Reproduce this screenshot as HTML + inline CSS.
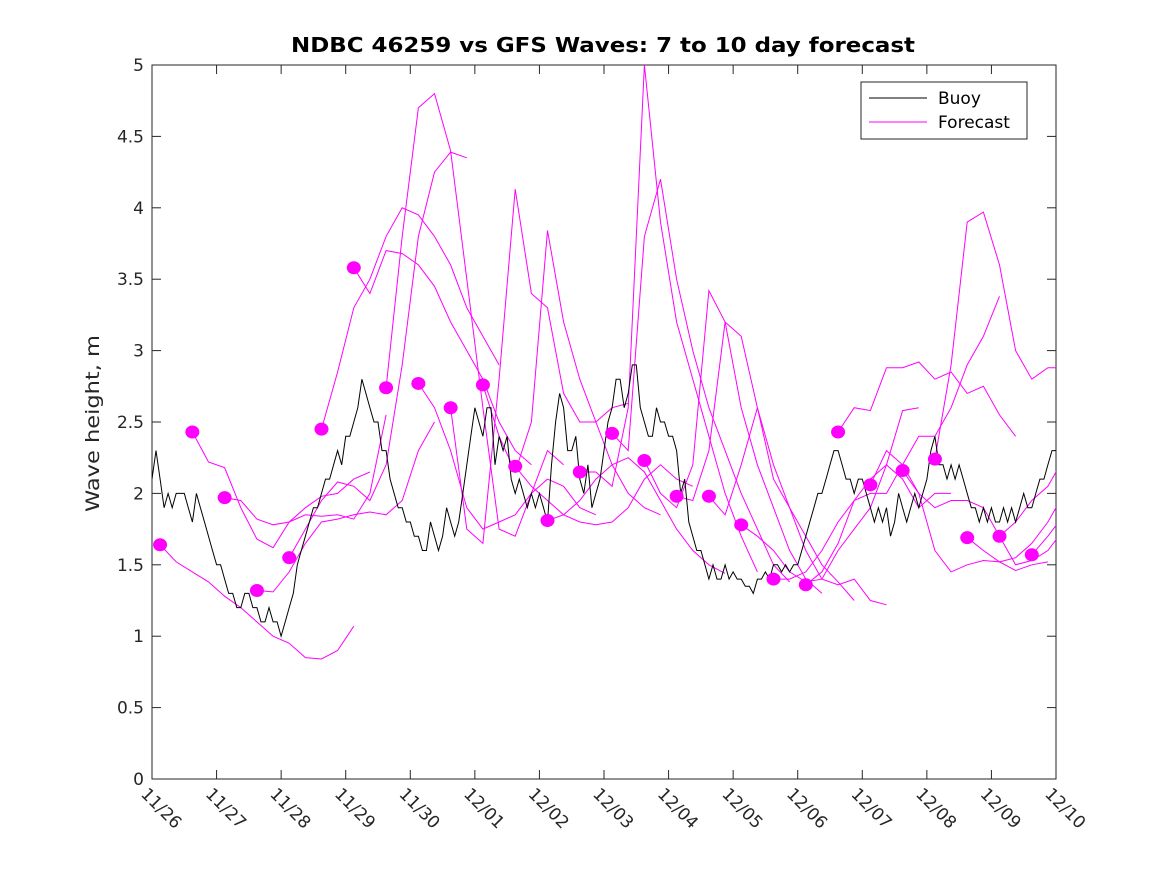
<!DOCTYPE html>
<html><head><meta charset="utf-8"><style>
body{margin:0;background:#fff;}
svg text{font-family:"DejaVu Sans","Liberation Sans",sans-serif;}
</style></head><body>
<svg id="chart" width="1167" height="875" xmlns="http://www.w3.org/2000/svg">
<rect width="1167" height="875" fill="#fff"/>
<defs><clipPath id="clip"><rect x="152" y="65" width="904" height="714"/></clipPath></defs>
<text x="291" y="52" textLength="624" lengthAdjust="spacingAndGlyphs" font-size="20" font-weight="bold" fill="#000">NDBC 46259 vs GFS Waves: 7 to 10 day forecast</text>
<text transform="translate(99,512) rotate(-90)" textLength="177" lengthAdjust="spacingAndGlyphs" font-size="19" fill="#262626">Wave height, m</text>
<g id="axes"></g>
<g id="series" clip-path="url(#clip)"></g>
<g id="legend">
<rect x="861" y="82" width="166" height="57" fill="#fff" stroke="#262626" stroke-width="1"/>
<line x1="869" y1="98" x2="927" y2="98" stroke="#000" stroke-width="1"/>
<text x="938" y="104" font-size="17" fill="#000">Buoy</text>
<line x1="869" y1="122" x2="927" y2="122" stroke="#f0f" stroke-width="1"/>
<text x="938" y="128" font-size="17" fill="#000">Forecast</text>
</g>
</svg>
<script>
const xTickLabels=["11/26","11/27","11/28","11/29","11/30","12/01","12/02","12/03","12/04","12/05","12/06","12/07","12/08","12/09","12/10"];
const yTicks=[0,0.5,1,1.5,2,2.5,3,3.5,4,4.5,5];
const yTickLabels=["0","0.5","1","1.5","2","2.5","3","3.5","4","4.5","5"];
const buoyStep=0.0625;
const buoyValues=[
2.1,2.3,2.1,1.9,2.0,1.9,2.0,2.0,2.0,1.9,1.8,2.0,1.9,1.8,1.7,1.6,
1.5,1.5,1.4,1.3,1.3,1.2,1.2,1.3,1.3,1.2,1.2,1.1,1.1,1.2,1.1,1.1,
1.0,1.1,1.2,1.3,1.5,1.6,1.7,1.8,1.9,1.9,2.0,2.1,2.1,2.2,2.3,2.2,
2.4,2.4,2.5,2.6,2.8,2.7,2.6,2.5,2.5,2.3,2.3,2.1,2.0,1.9,1.9,1.8,
1.8,1.7,1.7,1.6,1.6,1.8,1.7,1.6,1.7,1.9,1.8,1.7,1.8,2.0,2.2,2.4,
2.6,2.5,2.4,2.6,2.6,2.2,2.4,2.3,2.4,2.1,2.0,2.1,2.0,1.9,2.0,1.9,
2.0,1.9,1.8,2.2,2.5,2.7,2.6,2.3,2.3,2.4,2.1,2.0,2.2,1.9,2.0,2.1,
2.3,2.5,2.6,2.8,2.8,2.6,2.7,2.9,2.9,2.6,2.5,2.4,2.4,2.6,2.5,2.5,
2.4,2.4,2.3,2.0,2.1,1.8,1.7,1.6,1.6,1.5,1.4,1.5,1.4,1.4,1.5,1.4,
1.45,1.4,1.4,1.35,1.35,1.3,1.4,1.4,1.45,1.4,1.5,1.5,1.45,1.5,1.45,1.5,
1.5,1.6,1.7,1.8,1.9,2.0,2.0,2.1,2.2,2.3,2.3,2.2,2.1,2.1,2.0,2.1,
2.1,2.0,1.9,1.8,1.9,1.8,1.9,1.7,1.8,2.0,1.9,1.8,1.9,2.0,1.9,2.0,
2.1,2.3,2.4,2.2,2.2,2.1,2.2,2.1,2.2,2.1,2.0,1.9,1.9,1.8,1.9,1.8,
1.9,1.8,1.8,1.9,1.8,1.9,1.8,1.9,2.0,1.9,1.9,2.0,2.1,2.1,2.2,2.3,2.3];
const fcStep=0.25;
const fcStarts=[0.125,0.625,1.125,1.625,2.125,2.625,3.125,3.625,4.125,4.625,5.125,5.625,6.125,6.625,7.125,7.625,8.125,8.625,9.125,9.625,10.125,10.625,11.125,11.625,12.125,12.625,13.125,13.625];
const fcValues=[
[1.64,1.52,1.45,1.38,1.28,1.20,1.10,1.00,0.95,0.85,0.84,0.90,1.07],
[2.43,2.22,2.18,1.90,1.68,1.62,1.80,1.90,1.98,2.00,2.10,2.15],
[1.97,1.95,1.82,1.78,1.80,1.85,1.84,1.85,1.82,2.00,2.55],
[1.32,1.31,1.45,1.65,1.80,1.82,1.85,1.87,1.85,1.95,2.30,2.50],
[1.55,1.75,1.95,2.08,2.05,1.95,2.20,2.90,3.80,4.25,4.39,4.35],
[2.45,2.85,3.30,3.50,3.80,4.00,3.95,3.80,3.60,3.30,3.10,2.90],
[3.58,3.40,3.70,3.68,3.60,3.45,3.20,3.00,2.80,2.50,2.30,2.20],
[2.74,3.80,4.70,4.80,4.40,3.50,2.60,1.75,1.70,2.00,2.30,2.20],
[2.77,2.60,2.30,1.90,1.75,1.80,1.85,2.00,2.10,2.05,1.90,1.85],
[2.60,1.75,1.65,2.80,4.13,3.40,3.30,2.70,2.50,2.50,2.60,2.63],
[2.76,2.40,2.15,2.50,3.84,3.20,2.80,2.50,2.20,2.00,1.90,1.85],
[2.19,2.05,1.95,1.85,1.80,1.78,1.80,1.90,2.10,2.20,2.10,2.05],
[1.81,1.85,1.95,2.10,2.20,2.25,2.15,1.95,1.75,1.60,1.50,1.44],
[2.15,2.15,2.05,2.60,5.00,3.90,3.20,2.80,2.40,2.00,1.70,1.45],
[2.42,2.30,3.80,4.20,3.50,3.00,2.60,2.30,2.00,1.75,1.50,1.38],
[2.23,2.00,1.90,2.20,3.42,3.20,2.60,2.20,1.90,1.60,1.40,1.30],
[1.98,1.95,2.30,3.20,3.10,2.60,2.20,1.90,1.70,1.50,1.38,1.25],
[1.98,1.85,2.20,2.60,2.10,1.90,1.60,1.40,1.36,1.40,1.25,1.22],
[1.78,1.70,1.60,1.45,1.38,1.40,1.60,1.75,1.90,2.20,2.58,2.60],
[1.40,1.40,1.45,1.60,1.80,1.95,2.10,2.20,2.10,1.90,2.00,2.00],
[1.36,1.45,1.65,1.95,2.00,2.00,2.20,2.40,2.40,2.60,2.90,3.10,3.38],
[2.43,2.60,2.58,2.88,2.88,2.92,2.80,2.85,2.70,2.75,2.55,2.40],
[2.06,2.30,2.20,2.00,1.60,1.45,1.50,1.53,1.52,1.46,1.50,1.52],
[2.16,2.00,1.90,1.95,1.95,1.90,1.70,1.50,1.53,1.60,1.75,1.90],
[2.24,2.90,3.90,3.97,3.60,3.00,2.80,2.88,2.88],
[1.69,1.60,1.52,1.55,1.65,1.80,2.00,2.20,2.30,2.35],
[1.70,1.80,1.95,2.05,2.25,2.35,2.40],
[1.57,1.70,1.85]];

const NS="http://www.w3.org/2000/svg";
const X0=152,X1=1056,Y0=779,Y1=65,DAYS=14,YMAX=5;
function xs(d){return X0+(X1-X0)*d/DAYS;}
function ys(v){return Y0-(Y0-Y1)*v/YMAX;}
function mk(tag,attrs,parent){const e=document.createElementNS(NS,tag);for(const k in attrs)e.setAttribute(k,attrs[k]);parent.appendChild(e);return e;}
const axes=document.getElementById('axes'),series=document.getElementById('series');
const box=mk('rect',{x:X0,y:Y1,width:X1-X0,height:Y0-Y1,fill:'none',stroke:'#262626','stroke-width':1},axes);


xTickLabels.forEach((lab,i)=>{
  const x=xs(i);
  mk('line',{x1:x,y1:Y0,x2:x,y2:Y0-9,stroke:'#262626'},axes);
  mk('line',{x1:x,y1:Y1,x2:x,y2:Y1+9,stroke:'#262626'},axes);
  const t=mk('text',{transform:`translate(${x-12},${Y0+16}) rotate(45)`,'font-size':17,fill:'#262626'},axes);
  t.textContent=lab;
  
  
});
yTicks.forEach((v,i)=>{
  const y=ys(v);
  mk('line',{x1:X0,y1:y,x2:X0+9,y2:y,stroke:'#262626'},axes);
  mk('line',{x1:X1,y1:y,x2:X1-9,y2:y,stroke:'#262626'},axes);
  const t=mk('text',{x:X0-8,y:y+6,'text-anchor':'end','font-size':17,fill:'#262626'},axes);
  t.textContent=yTickLabels[i];
  
  
});
fcValues.forEach((vals,i)=>{
  const pts=vals.map((v,j)=>xs(fcStarts[i]+j*fcStep).toFixed(1)+','+ys(v).toFixed(1)).join(' ');
  const p=mk('polyline',{points:pts,fill:'none',stroke:'#f0f','stroke-width':1},series);
  
  
});
const bpts=buoyValues.map((v,j)=>xs(j*buoyStep).toFixed(1)+','+ys(v).toFixed(1)).join(' ');
const b=mk('polyline',{points:bpts,fill:'none',stroke:'#000','stroke-width':1},series);


fcValues.forEach((vals,i)=>{
  const c=mk('ellipse',{cx:xs(fcStarts[i]),cy:ys(vals[0]),rx:7,ry:6.5,fill:'#f0f'},series);
  
  
});
</script>
</body></html>
